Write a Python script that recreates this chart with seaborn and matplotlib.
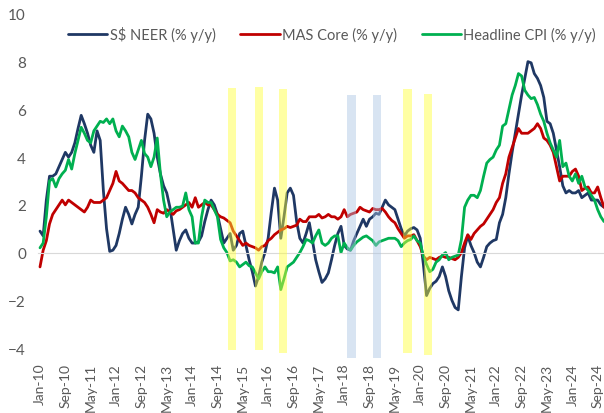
import numpy as np
import pandas as pd
import matplotlib
matplotlib.use("Agg")
import matplotlib.pyplot as plt
import seaborn as sns

# monthly values, Jan-10 .. Nov-24 (one row per year)
neer = [
    0.9, 0.7, 2.2, 3.2, 3.2, 3.3, 3.6, 3.9, 4.2, 4.0, 4.2, 4.6,
    5.2, 5.75, 5.4, 5.0, 4.5, 4.2, 5.1, 4.7, 2.6, 1.0, 0.05, 0.1,
    0.3, 0.8, 1.4, 1.9, 1.6, 1.2, 1.6, 1.9, 3.2, 4.7, 5.8, 5.6,
    5.0, 4.0, 3.3, 2.8, 2.5, 1.9, 1.0, 0.1, 0.5, 0.8, 0.95, 0.6,
    0.4, 0.4, 0.45, 0.7, 1.3, 1.8, 2.2, 2.0, 1.6, 1.0, 0.4, 0.6,
    0.8, 0.1, 0.3, 0.8, 0.9, 0.3, -0.3, -0.8, -1.4, -1.0, -0.4, 0.0,
    0.6, 1.7, 2.7, 2.2, 0.6, 1.5, 2.5, 2.7, 2.4, 1.3, 0.6, 0.4,
    0.8, 1.25, 0.5, -0.3, -0.8, -1.25, -1.1, -0.85, -0.3, 0.3, 0.8, 1.1,
    0.3, 0.15, 0.1, 0.5, 0.8, 1.1, 1.4, 1.1, 1.4, 1.5, 1.65, 1.6,
    1.9, 2.2, 2.0, 1.9, 1.8, 1.4, 1.0, 0.7, 0.9, 1.0, 1.05, 0.95,
    0.6, -0.5, -1.8, -1.5, -1.3, -1.2, -1.0, -0.6, -1.0, -1.6, -2.0, -2.3,
    -2.4, -1.0, 0.2, 0.7, 0.3, 0.0, -0.4, -0.6, -0.2, 0.25, 0.4, 0.5,
    0.55, 1.25, 1.6, 2.3, 3.3, 4.2, 5.0, 5.8, 6.6, 7.3, 8.0, 7.95,
    7.5, 7.3, 7.0, 6.5, 5.5, 5.4, 5.0, 4.3, 3.6, 2.8, 2.5, 2.6,
    2.5, 2.5, 2.6, 2.3, 2.4, 2.5, 2.2, 2.2, 2.2, 2.0, 1.9,
]
mas_core = [
    -0.6, 0.1, 0.5, 1.2, 1.6, 1.8, 2.0, 2.2, 2.0, 2.2, 2.1, 2.0,
    1.9, 1.8, 1.7, 1.9, 2.2, 2.1, 2.1, 2.1, 2.2, 2.3, 2.6, 2.9,
    3.4, 3.0, 2.9, 2.75, 2.6, 2.6, 2.5, 2.3, 2.2, 2.1, 1.9, 1.6,
    1.25, 1.8, 1.7, 1.65, 1.8, 1.7, 1.6, 1.75, 1.8, 1.9, 2.0, 2.1,
    1.9, 2.3, 1.9, 2.0, 2.1, 2.0, 2.0, 1.8, 1.6, 1.5, 1.45, 1.35,
    1.25, 0.9, 0.7, 0.5, 0.3, 0.4, 0.3, 0.25, 0.2, 0.1, 0.25, 0.3,
    0.5, 0.6, 0.75, 0.85, 0.95, 1.0, 1.1, 1.05, 1.1, 1.15, 1.4, 1.3,
    1.3, 1.5, 1.5, 1.5, 1.6, 1.45, 1.5, 1.6, 1.5, 1.5, 1.4, 1.5,
    1.8, 1.5, 1.6, 1.65, 1.7, 1.9, 1.8, 1.75, 1.7, 1.85, 1.8, 1.8,
    1.85, 1.7, 1.5, 1.35, 1.25, 1.0, 0.8, 0.6, 0.7, 0.7, 0.75, 0.5,
    0.25, -0.15, -0.3, -0.2, -0.25, -0.3, -0.2, -0.15, -0.2, -0.2, -0.25, -0.3,
    -0.2, 0.0, 0.4, 0.75, 0.55, 0.8, 0.95, 1.1, 1.2, 1.4, 1.6, 1.8,
    2.1, 2.3, 2.9, 3.3, 4.0, 4.4, 4.8, 5.2, 5.0, 5.0, 5.0, 5.1,
    5.2, 5.4, 5.2, 4.8, 4.7, 4.5, 4.2, 3.6, 3.0, 3.2, 3.2, 3.2,
    3.4, 3.5, 3.2, 2.6, 2.7, 2.75, 2.5, 2.5, 2.75, 2.3, 1.9,
]
headline = [
    0.2, 0.4, 1.5, 3.0, 3.1, 2.75, 3.1, 3.3, 3.45, 3.9, 3.5, 4.15,
    4.7, 5.25, 5.0, 4.7, 4.6, 5.1, 5.3, 5.5, 5.45, 5.6, 5.4, 5.6,
    5.1, 4.85, 5.3, 5.1, 4.85, 4.2, 3.9, 4.3, 4.7, 4.15, 4.0, 3.6,
    4.0, 4.8, 3.3, 2.2, 1.5, 1.7, 1.8, 1.9, 1.9, 1.95, 2.5, 1.8,
    1.5, 0.4, 0.4, 1.5, 2.2, 2.1, 2.1, 1.8, 1.5, 0.55, 0.2, 0.0,
    -0.35, -0.3, -0.4, -0.6, -0.5, -0.4, -0.55, -0.6, -0.85, -1.1, -0.8, -0.6,
    -0.8, -0.8, -0.85, -0.6, -1.55, -1.1, -0.6, -0.5, -0.4, -0.2, 0.0, 0.25,
    0.55, 0.5, 0.4, 0.7, 0.95, 0.4, 0.3, 0.4, 0.6, 0.7, 0.7, 0.0,
    0.4, 0.2, 0.1, 0.3, 0.45, 0.55, 0.65, 0.7, 0.6, 0.5, 0.3, 0.45,
    0.5, 0.55, 0.6, 0.6, 0.6, 0.5, 0.25, 0.4, 0.5, 0.55, 0.7, 0.5,
    0.4, -0.15, -0.5, -0.8, -0.7, -0.4, -0.3, -0.1, 0.0, -0.3, -0.2, -0.15,
    -0.1, 0.55, 1.9, 2.2, 2.4, 2.4, 2.3, 2.6, 3.2, 3.75, 3.9, 4.0,
    4.3, 4.5, 5.3, 5.4, 6.0, 6.6, 7.0, 7.5, 7.4, 6.8, 6.6, 6.45,
    6.5, 6.2, 5.8, 5.5, 5.0, 4.6, 4.3, 4.0, 4.7, 3.6, 3.75, 3.2,
    3.0, 3.3, 2.9, 3.2, 2.75, 2.6, 2.4, 2.2, 1.8, 1.5, 1.3,
]
series_names = ["S$ NEER (% y/y)", "MAS Core (% y/y)", "Headline CPI (% y/y)"]
series_colors = ["#1F3864", "#C00000", "#00B050"]

# highlighted policy months (month index from Jan-10), band top/bottom
band_months = [60.5, 69.0, 76.6, 98.3, 106.3, 116.0, 122.4]
band_tops = [6.9, 6.95, 6.85, 6.6, 6.6, 6.85, 6.65]
band_bottoms = [-4.1, -4.1, -4.2, -4.4, -4.4, -4.2, -4.3]
band_kinds = ["ease", "ease", "ease", "tighten", "tighten", "ease", "ease"]
band_colors = {"ease": ("#FFFF33", 0.45), "tighten": ("#A9C4E4", 0.45)}

dates = pd.date_range("2010-01-01", periods=len(neer), freq="MS")
month_idx = np.arange(len(neer))
tick_pos = month_idx[::8]
tick_labels = dates[::8].strftime("%b-%y")

df = pd.DataFrame({
    "month": np.tile(month_idx, 3),
    "value": neer + mas_core + headline,
    "series": np.repeat(series_names, len(neer)),
})

sns.set_style("white")
plt.rcParams["font.family"] = ["Lato", "DejaVu Sans"]
grey = "#595959"

fig = plt.figure(figsize=(6.04, 4.14), dpi=100)
ax = fig.add_axes([0.0636, 0.128, 0.9364, 0.836])

sns.lineplot(data=df, x="month", y="value", hue="series",
             palette=dict(zip(series_names, series_colors)),
             linewidth=2.0, ax=ax, legend=False, zorder=2)

for m, top, bot, kind in zip(band_months, band_tops, band_bottoms, band_kinds):
    col, a = band_colors[kind]
    ax.bar(m, top - bot, bottom=bot, width=2.6, color=col,
           alpha=a, linewidth=0, zorder=3, clip_on=False)

ax.set_xlim(-0.5, 178)
ax.set_ylim(-4.5, 10)
ax.set_yticks(range(-4, 11, 2))
ax.tick_params(axis="y", length=0, pad=9, labelsize=11, labelcolor=grey)
ax.set_xlabel("")
ax.set_ylabel("")

for s in ["top", "right", "left"]:
    ax.spines[s].set_visible(False)
ax.spines["bottom"].set_position(("data", 0))
ax.spines["bottom"].set_color("#D9D9D9")
ax.set_xticks(tick_pos)
ax.tick_params(axis="x", length=4, color="#D9D9D9", labelbottom=False)

secax = ax.secondary_xaxis("bottom")
secax.set_xticks(tick_pos, tick_labels)
secax.tick_params(length=0, pad=2, labelsize=10, labelcolor=grey, rotation=90)
secax.spines["bottom"].set_visible(False)

handles = [plt.Line2D([], [], color=c, linewidth=2.0) for c in series_colors]
ax.legend(handles, series_names, loc="center", bbox_to_anchor=(0.519, 0.942),
          ncol=3, frameon=False, fontsize=10.5, labelcolor=grey,
          handlelength=2.7, handletextpad=0.15, columnspacing=1.7,
          borderaxespad=0, borderpad=0)

fig.savefig("out.png", dpi=100, facecolor="white")
